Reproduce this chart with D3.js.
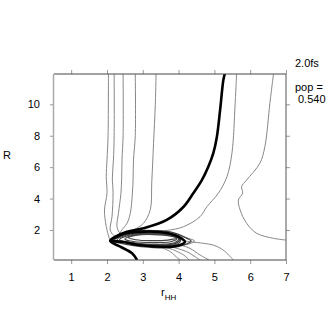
<!DOCTYPE html>
<html>
<head>
<meta charset="utf-8">
<script src="https://cdn.jsdelivr.net/npm/d3@7"></script>
<style>
body { margin: 0; background: #fff; }
svg text { font-family: "Liberation Sans", Arial, sans-serif; fill: #000; }
</style>
</head>
<body>
<svg id="chart" width="334" height="314"></svg>
<script>
var width = 334, height = 314;
var margin = ({top: 74, right: 48, bottom: 54, left: 54});

// axis ticks
var xTickValues = [1, 2, 3, 4, 5, 6, 7];
var yTickValues = [2, 4, 6, 8, 10];

// thin contour lines (rHH, R)
var leftLine1 = [[2.04,11.93],[2.03,8],[2.0,6.46],[1.98,5.4],[2.0,4.34],[1.93,3.27],[1.98,2.21],[2.05,1.57],[2.09,1.30]];
var leftLine2 = [[2.2,11.93],[2.2,8],[2.18,6.46],[2.15,5.3],[2.17,4.36],[2.14,2.85],[2.09,2.0],[2.18,1.68],[2.3,1.62]];
var leftLine3 = [[2.45,11.93],[2.45,8],[2.42,6.46],[2.41,5.3],[2.39,4.34],[2.32,3.06],[2.28,2.21],[2.37,1.79],[2.5,1.75]];
var leftLine4 = [[2.79,11.93],[2.79,8],[2.74,6.46],[2.73,5.3],[2.71,4.34],[2.65,3.06],[2.56,2.43],[2.4,1.95],[2.35,1.75]];
var leftLine5 = [[3.37,11.93],[3.35,10],[3.30,7.5],[3.25,5],[3.21,3.3],[3.02,2.43],[2.74,2.0],[2.4,1.72]];
var rightLine1 = [[5.62,11.93],[5.58,10.07],[5.49,6.89],[5.35,5.39],[5.11,4.34],[4.79,3.48],[4.60,2.85],[4.14,2.21],[3.7,1.98],[3.3,1.9]];
var rightLine2 = [[6.65,11.93],[6.55,10.07],[6.41,7.31],[6.27,6.25],[5.90,5.18],[5.76,4.76],[5.79,4.34],[5.67,3.91],[5.72,3.27],[5.90,2.43],[6.18,1.79],[6.65,1.47],[7.0,1.36]];
var fan1 = [[4.1,1.32],[4.32,1.25],[4.7,1.15],[4.97,1.04],[5.2,0.8],[5.35,0.52],[5.53,0.09]];
var fan2 = [[3.85,1.1],[4.05,1.04],[4.32,0.83],[4.6,0.41],[4.85,0.09]];
var fan3 = [[3.75,0.95],[3.95,0.83],[4.23,0.62],[4.46,0.30],[4.6,0.09]];
var fan4 = [[3.65,0.88],[3.86,0.73],[4.14,0.41],[4.3,0.09]];
var fan5 = [[3.55,0.85],[3.77,0.62],[3.98,0.2],[4.05,0.09]];

// closed rings around the population peak
var ringOuter = [[2.12,1.32],[2.35,1.72],[2.8,1.95],[3.35,1.96],[3.85,1.83],[4.25,1.45],[4.35,1.3],[4.15,1.05],[3.8,0.88],[3.2,0.9],[2.7,1.02],[2.3,1.2]];
var ring1 = [[2.2,1.34],[2.5,1.7],[2.9,1.82],[3.35,1.83],[3.75,1.72],[4.05,1.45],[4.0,1.15],[3.7,1.02],[3.2,1.03],[2.75,1.12],[2.4,1.26]];
var ring1b = [[2.28,1.36],[2.55,1.68],[2.92,1.8],[3.38,1.8],[3.78,1.69],[4.03,1.45],[3.95,1.18],[3.65,1.06],[3.15,1.06],[2.72,1.16]];
var ring2 = [[2.35,1.38],[2.6,1.66],[2.95,1.77],[3.4,1.78],[3.8,1.66],[4.0,1.45],[3.9,1.2],[3.6,1.1],[3.1,1.1],[2.7,1.2]];
var ring3 = [[2.5,1.42],[2.7,1.64],[3.0,1.73],[3.4,1.74],[3.8,1.63],[3.95,1.45],[3.8,1.27],[3.4,1.2],[2.95,1.22],[2.65,1.3]];
var ring4 = [[2.6,1.5],[2.8,1.66],[3.3,1.71],[3.8,1.6],[3.95,1.48],[3.7,1.36],[3.2,1.32],[2.8,1.38]];
var ringTail = [[3.9,1.7],[4.3,1.45],[4.45,1.3],[4.3,1.12],[3.95,1.0],[3.6,0.98]];

// bold contour (pop level)
var boldLine = [[5.29,11.93],[5.25,11.55],[5.16,9.64],[5.07,7.94],[4.97,6.89],[4.83,6.03],[4.65,5.18],[4.41,4.34],[4.14,3.48],[3.67,2.64],[3.02,2.11],[2.56,1.89],[2.23,1.57],[2.09,1.30],[2.37,0.94],[2.70,0.52],[2.84,0.09]];
var boldRing = [[2.1,1.33],[2.3,1.6],[2.51,1.79],[2.9,1.88],[3.35,1.89],[3.75,1.78],[4.0,1.57],[4.18,1.25],[4.05,1.05],[3.81,0.94],[3.3,0.96],[2.88,1.04],[2.42,1.25]];

var thinLines = [leftLine1, leftLine2, leftLine3, leftLine4, leftLine5, rightLine1, rightLine2, fan1, fan2, fan3, fan4, fan5, ringTail];
var thinRings = [ringOuter, ring1, ring1b, ring2, ring3, ring4];

var x = d3.scaleLinear()
.domain([0.52, 7])
.range([margin.left, width - margin.right]);

var y = d3.scaleLinear()
.domain([0.09, 11.93])
.range([height - margin.bottom, margin.top]);

var line = d3.line()
.x(d => x(d[0]))
.y(d => y(d[1]))
.curve(d3.curveCatmullRom);

var ring = d3.line()
.x(d => x(d[0]))
.y(d => y(d[1]))
.curve(d3.curveCatmullRomClosed);

const svg = d3.select("#chart");

svg.append("clipPath")
.attr("id", "plotclip")
.append("rect")
.attr("x", margin.left)
.attr("y", margin.top)
.attr("width", width - margin.left - margin.right)
.attr("height", height - margin.top - margin.bottom);

var plot = svg.append("g").attr("clip-path", "url(#plotclip)");

plot.selectAll("path.thin")
.data(thinLines)
.join("path")
.attr("class", "thin")
.attr("d", line)
.attr("fill", "none")
.attr("stroke", "#888")
.attr("stroke-width", 1);

plot.selectAll("path.ring")
.data(thinRings)
.join("path")
.attr("class", "ring")
.attr("d", ring)
.attr("fill", "none")
.attr("stroke", "#444")
.attr("stroke-width", 1.2);

plot.append("path")
.attr("d", line(boldLine))
.attr("fill", "none")
.attr("stroke", "#000")
.attr("stroke-width", 2.6);

plot.append("path")
.attr("d", ring(boldRing))
.attr("fill", "none")
.attr("stroke", "#000")
.attr("stroke-width", 2.6);

// axes
var tickLen = 4;
var xAxis = g => g
.attr("transform", `translate(0,${height - margin.bottom})`)
.call(d3.axisBottom(x).tickValues(xTickValues).tickSize(tickLen).tickPadding(9).tickFormat(d3.format("d")))
.call(g => g.select(".domain").remove());

var xAxisTop = g => g
.attr("transform", `translate(0,${margin.top})`)
.call(d3.axisTop(x).tickValues(xTickValues).tickSize(tickLen).tickFormat(""))
.call(g => g.select(".domain").remove());

var yAxis = g => g
.attr("transform", `translate(${margin.left},0)`)
.call(d3.axisLeft(y).tickValues(yTickValues).tickSize(tickLen).tickPadding(10).tickFormat(d3.format("d")))
.call(g => g.select(".domain").remove());

var yAxisRight = g => g
.attr("transform", `translate(${width - margin.right},0)`)
.call(d3.axisRight(y).tickValues(yTickValues).tickSize(tickLen).tickFormat(""))
.call(g => g.select(".domain").remove());

[xAxis, xAxisTop, yAxis, yAxisRight].forEach(function(a) {
var g = svg.append("g").call(a);
g.selectAll(".tick line").attr("stroke", "#999");
g.selectAll(".tick text").attr("font-size", 11).attr("fill", "#000")
.attr("font-family", "'Liberation Sans', Arial, sans-serif");
});

// frame
var x0 = margin.left, x1 = width - margin.right, y0 = margin.top, y1 = height - margin.bottom;
svg.append("line").attr("x1", x0).attr("x2", x1).attr("y1", y0).attr("y2", y0).attr("stroke", "#444");
svg.append("line").attr("x1", x0).attr("x2", x1).attr("y1", y1).attr("y2", y1).attr("stroke", "#444");
svg.append("line").attr("x1", x1).attr("x2", x1).attr("y1", y0).attr("y2", y1).attr("stroke", "#555");
svg.append("line").attr("x1", x0 - 0.5).attr("x2", x0 - 0.5).attr("y1", y0).attr("y2", y1).attr("stroke", "#aaa").attr("stroke-width", 1.5);

// labels
var xl = svg.append("text")
.attr("x", 161)
.attr("y", 296)
.attr("font-size", 11);
xl.append("tspan").text("r");
xl.append("tspan").attr("font-size", 8).attr("dy", 4).text("HH");

svg.append("text")
.attr("x", 3)
.attr("y", 159)
.attr("font-size", 11)
.text("R");

svg.append("text")
.attr("x", 295)
.attr("y", 67)
.attr("font-size", 11)
.text("2.0fs");

svg.append("text")
.attr("x", 295)
.attr("y", 91)
.attr("font-size", 11)
.text("pop =");

svg.append("text")
.attr("x", 298)
.attr("y", 103)
.attr("font-size", 11)
.text("0.540");
</script>
</body>
</html>
